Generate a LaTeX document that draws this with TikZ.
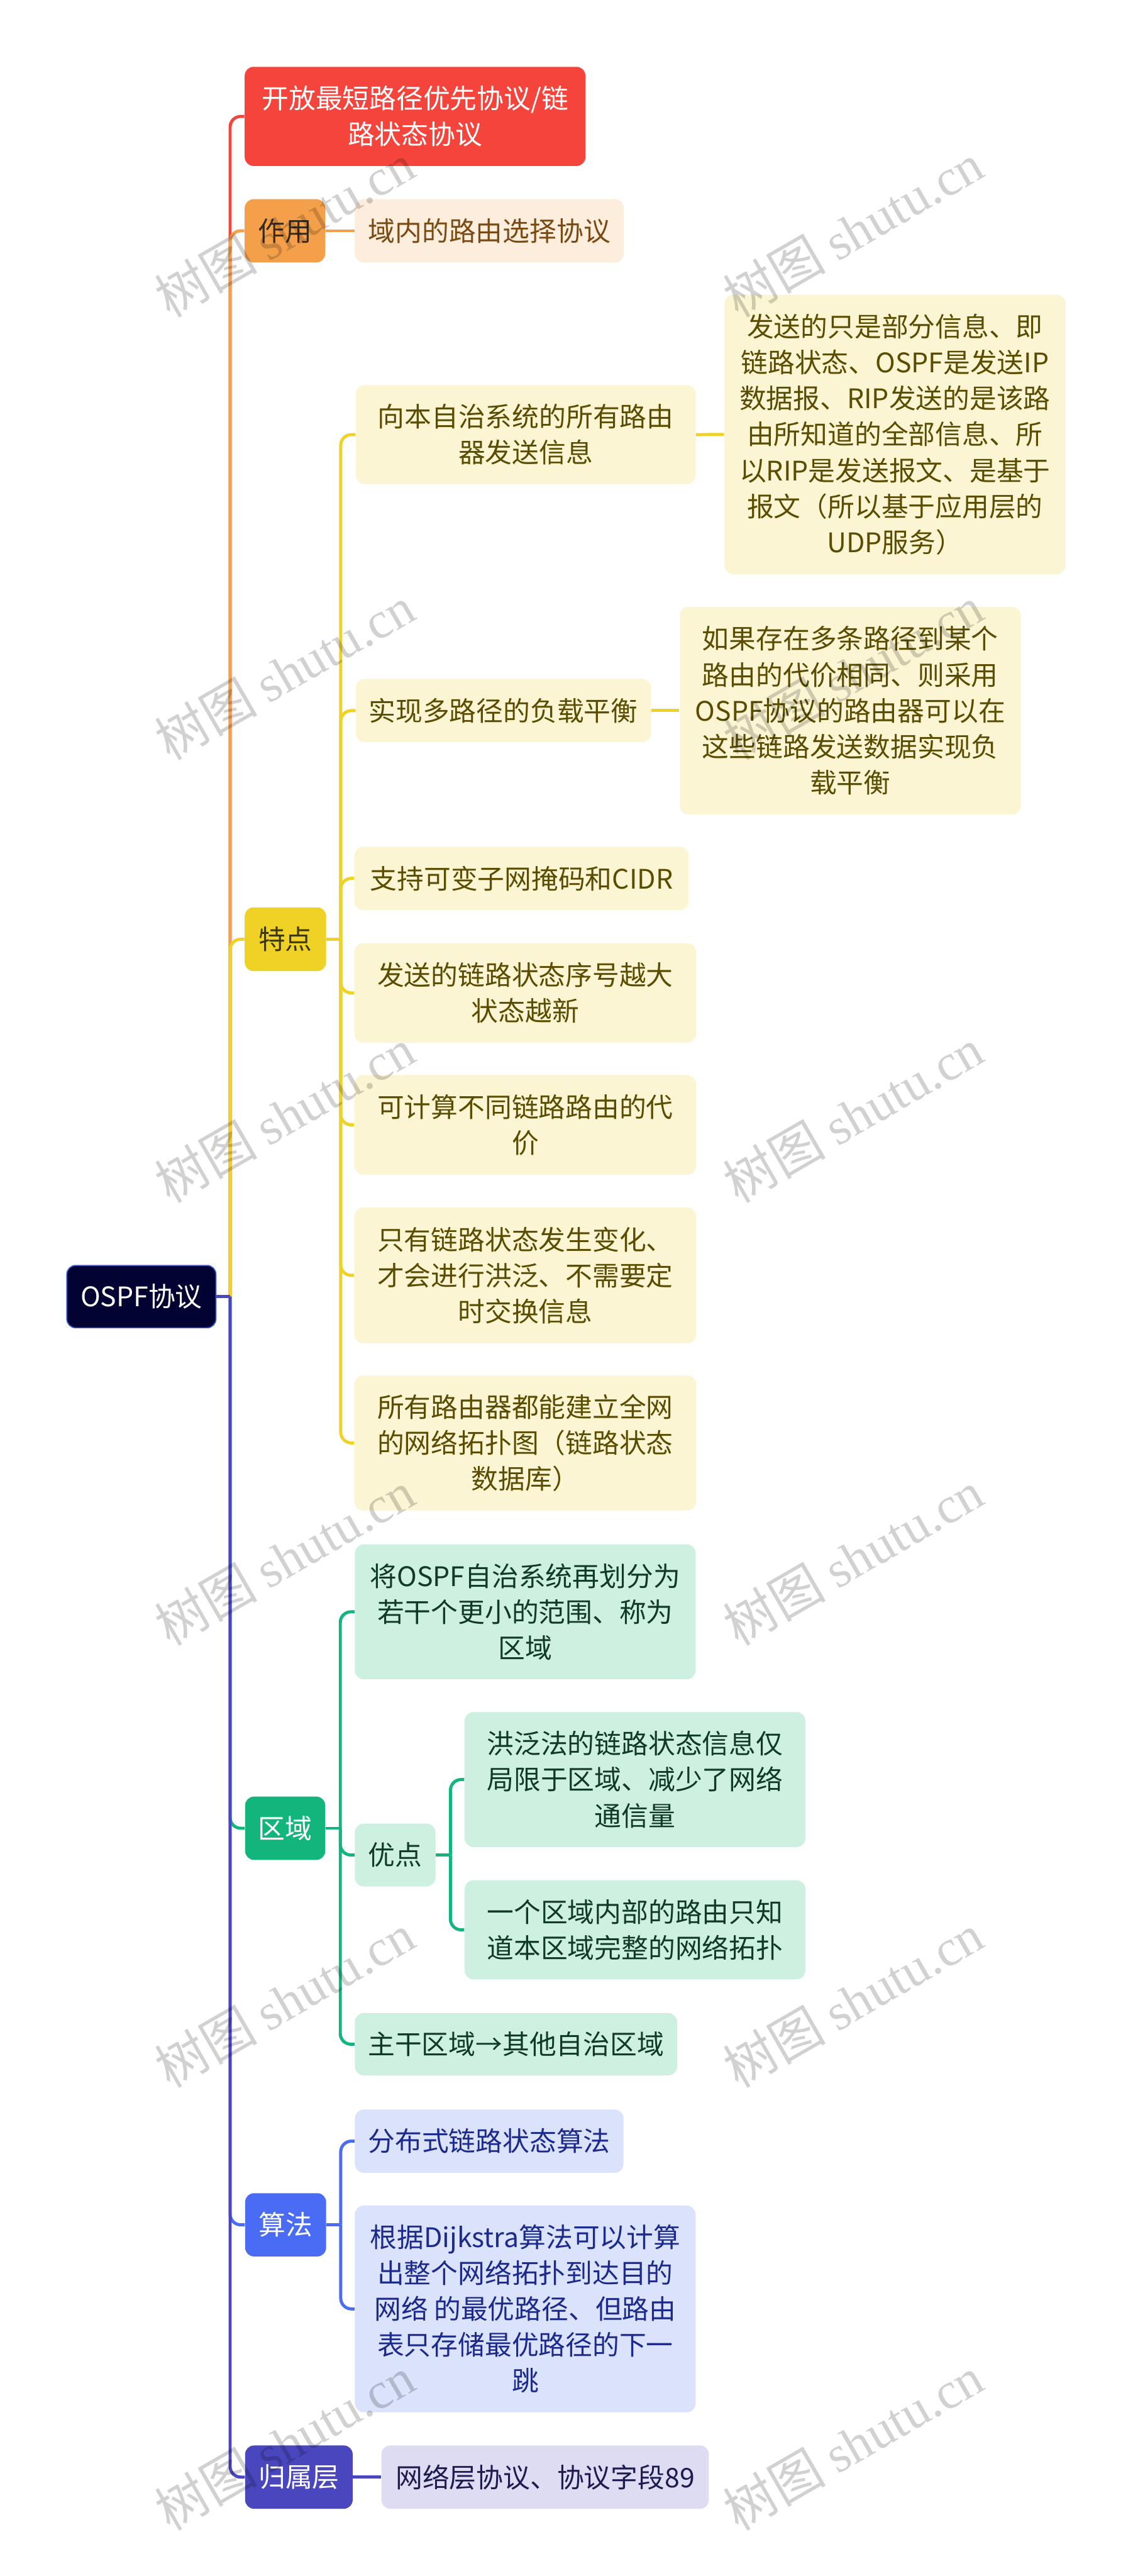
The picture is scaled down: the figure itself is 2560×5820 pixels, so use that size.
\documentclass[tikz,border=0pt]{standalone}
\usepackage{fontspec}
\setmainfont{Noto Sans CJK SC}
\newfontfamily\cjkwm{Noto Sans CJK SC}
\newfontfamily\latwm{Liberation Serif}
\usetikzlibrary{backgrounds}
\definecolor{cRed}{HTML}{F5443C}
\definecolor{cOrange}{HTML}{F4A04A}
\definecolor{cOrangeL}{HTML}{FDEDDD}
\definecolor{cOrangeT}{HTML}{7A4A12}
\definecolor{cOrangeD}{HTML}{3A2A18}
\definecolor{cYellow}{HTML}{F0D126}
\definecolor{cYellowL}{HTML}{FCF5D3}
\definecolor{cYellowT}{HTML}{5A4C00}
\definecolor{cYellowD}{HTML}{3D3700}
\definecolor{cGreen}{HTML}{12B67C}
\definecolor{cGreenL}{HTML}{CDF0E1}
\definecolor{cGreenT}{HTML}{103A28}
\definecolor{cBlue}{HTML}{4A6CF5}
\definecolor{cBlueL}{HTML}{DBE2FB}
\definecolor{cBlueT}{HTML}{1B2A8C}
\definecolor{cIndigo}{HTML}{4A46BE}
\definecolor{cIndigoL}{HTML}{DDDCF2}
\definecolor{cIndigoT}{HTML}{1D1B4F}
\definecolor{cRoot}{HTML}{020233}
\definecolor{cRootB}{HTML}{3C5CD6}
\begin{document}
\begin{tikzpicture}[x=0.25pt,y=-0.25pt,
  bx/.style={rounded corners=5pt, inner sep=0pt, align=center, font=\fontsize{15.2}{20.3}\selectfont},
  conn/.style={line width=1.75pt},
  cv/.style={line width=1.75pt, rounded corners=6pt},
  wm/.style={rotate=30, text=black, opacity=0.18, font=\fontsize{29}{32}\selectfont, inner sep=0pt}]
\useasboundingbox (0,0) rectangle (2560,5820);

% root
\node[bx, fill=cRoot, draw=cRootB, line width=0.6pt, text=white, minimum width=84.25pt, minimum height=35.25pt] (root) at (319.5,2929.5) {OSPF协议};

% level 1
\node[bx, fill=cRed, text=white, minimum width=192.5pt, minimum height=56pt] (title) at (938,263) {开放最短路径优先协议/链\\路状态协议};
\node[bx, fill=cOrange, text=cOrangeD, minimum width=45.5pt, minimum height=35.75pt] (zuoyong) at (644,521.5) {作用};
\node[bx, fill=cYellow, text=cYellowD, minimum width=46pt, minimum height=36pt] (tedian) at (645,2122) {特点};
\node[bx, fill=cGreen, text=white, minimum width=45.25pt, minimum height=35.75pt] (quyu) at (644.5,4130.5) {区域};
\node[bx, fill=cBlue, text=white, minimum width=45.75pt, minimum height=35.75pt] (suanfa) at (645.5,5026.5) {算法};
\node[bx, fill=cIndigo, text=white, minimum width=60.75pt, minimum height=35.75pt] (guishu) at (675.5,5596.5) {归属层};

% 作用
\node[bx, fill=cOrangeL, text=cOrangeT, minimum width=152pt, minimum height=35.75pt] (zc) at (1106,521.5) {域内的路由选择协议};

% 特点 children
\node[bx, fill=cYellowL, text=cYellowT, minimum width=192pt, minimum height=56pt] (t1) at (1188,982) {向本自治系统的所有路由\\器发送信息};
\node[bx, fill=cYellowL, text=cYellowT, minimum width=192.75pt, minimum height=157.75pt] (t1a) at (2022.5,981.5) {发送的只是部分信息、即\\链路状态、OSPF是发送IP\\数据报、RIP发送的是该路\\由所知道的全部信息、所\\以RIP是发送报文、是基于\\报文（所以基于应用层的\\UDP服务）};
\node[bx, fill=cYellowL, text=cYellowT, minimum width=166.75pt, minimum height=35.75pt] (t2) at (1137.5,1605.5) {实现多路径的负载平衡};
\node[bx, fill=cYellowL, text=cYellowT, minimum width=192.75pt, minimum height=117.25pt] (t2a) at (1921.5,1605.5) {如果存在多条路径到某个\\路由的代价相同、则采用\\OSPF协议的路由器可以在\\这些链路发送数据实现负\\载平衡};
\node[bx, fill=cYellowL, text=cYellowT, minimum width=188.75pt, minimum height=35.75pt] (t3) at (1178.5,1984.5) {支持可变子网掩码和CIDR};
\node[bx, fill=cYellowL, text=cYellowT, minimum width=193pt, minimum height=56.25pt] (t4) at (1187,2243.5) {发送的链路状态序号越大\\状态越新};
\node[bx, fill=cYellowL, text=cYellowT, minimum width=193pt, minimum height=56.25pt] (t5) at (1187,2541.5) {可计算不同链路路由的代\\价};
\node[bx, fill=cYellowL, text=cYellowT, minimum width=193pt, minimum height=76.75pt] (t6) at (1187,2881.5) {只有链路状态发生变化、\\才会进行洪泛、不需要定\\时交换信息};
\node[bx, fill=cYellowL, text=cYellowT, minimum width=193pt, minimum height=76.25pt] (t7) at (1187,3260) {所有路由器都能建立全网\\的网络拓扑图（链路状态\\数据库）};

% 区域 children
\node[bx, fill=cGreenL, text=cGreenT, minimum width=192.5pt, minimum height=76.25pt] (q1) at (1187,3641.5) {将OSPF自治系统再划分为\\若干个更小的范围、称为\\区域};
\node[bx, fill=cGreenL, text=cGreenT, minimum width=45.5pt, minimum height=35.5pt] (youdian) at (893,4191) {优点};
\node[bx, fill=cGreenL, text=cGreenT, minimum width=192.5pt, minimum height=76.25pt] (y1) at (1435,4020.5) {洪泛法的链路状态信息仅\\局限于区域、减少了网络\\通信量};
\node[bx, fill=cGreenL, text=cGreenT, minimum width=192.5pt, minimum height=56pt] (y2) at (1435,4360) {一个区域内部的路由只知\\道本区域完整的网络拓扑};
\node[bx, fill=cGreenL, text=cGreenT, minimum width=182pt, minimum height=35.25pt] (q2) at (1166,4618.5) {主干区域→其他自治区域};

% 算法 children
\node[bx, fill=cBlueL, text=cBlueT, minimum width=151.75pt, minimum height=35.75pt] (s1) at (1105.5,4837.5) {分布式链路状态算法};
\node[bx, fill=cBlueL, text=cBlueT, minimum width=192.5pt, minimum height=116.75pt] (s2) at (1187,5216.5) {根据Dijkstra算法可以计算\\出整个网络拓扑到达目的\\网络 的最优路径、但路由\\表只存储最优路径的下一\\跳};

% 归属层 child
\node[bx, fill=cIndigoL, text=cIndigoT, minimum width=185pt, minimum height=35.75pt] (g1) at (1232,5596.5) {网络层协议、协议字段89};

% junction coordinates
\coordinate (rj) at (520,2929.5);
\coordinate (tj) at (770,2122);
\coordinate (qj) at (769,4130.5);
\coordinate (yj) at (1018,4191);
\coordinate (sj) at (770,5026.5);

\begin{pgfonlayer}{background}
\fill[white] (0,0) rectangle (2560,5820);
% main branches
\draw[cv, cRed] (rj) |- (title.west);
\draw[cv, cOrange] (rj) |- (zuoyong.west);
\draw[cv, cYellow] (rj) |- (tedian.west);
\draw[cv, cGreen] (rj) |- (quyu.west);
\draw[cv, cBlue] (rj) |- (suanfa.west);
\draw[cv, cIndigo] (rj) |- (guishu.west);
\draw[conn, cIndigo] (root.east) -- (rj);
% 作用
\draw[conn, cOrange] (zuoyong.east) -- (zc.west);
% 特点
\draw[conn, cYellow] (tedian.east) -- (tj);
\foreach \n in {t1,t2,t3,t4,t5,t6,t7} {\draw[cv, cYellow] (tj) |- (\n.west);}
\draw[conn, cYellow] (t1.east) -- (t1a.west);
\draw[conn, cYellow] (t2.east) -- (t2a.west);
% 区域
\draw[conn, cGreen] (quyu.east) -- (qj);
\foreach \n in {q1,youdian,q2} {\draw[cv, cGreen] (qj) |- (\n.west);}
\draw[conn, cGreen] (youdian.east) -- (yj);
\foreach \n in {y1,y2} {\draw[cv, cGreen] (yj) |- (\n.west);}
% 算法
\draw[conn, cBlue] (suanfa.east) -- (sj);
\foreach \n in {s1,s2} {\draw[cv, cBlue] (sj) |- (\n.west);}
% 归属层
\draw[conn, cIndigo] (guishu.east) -- (g1.west);
\end{pgfonlayer}

% watermarks
\foreach \yy [count=\i] in {520,1520,2520,3520,4520,5520} {
  \node[wm] (wl\i) at (643,\yy) {\cjkwm 树图 \latwm shutu.cn};
  \node[wm] (wr\i) at (1928,\yy) {\cjkwm 树图 \latwm shutu.cn};
}
\end{tikzpicture}
\end{document}
